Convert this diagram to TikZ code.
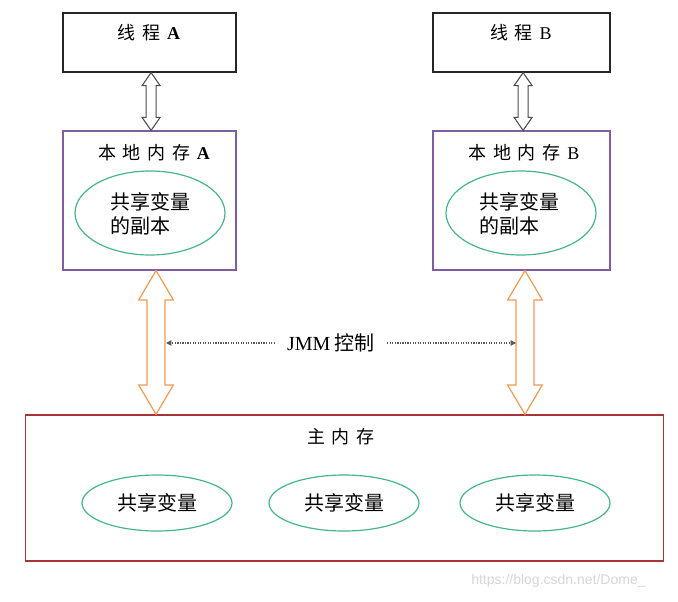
\documentclass[tikz,border=0pt]{standalone}
\usepackage{fontspec}
\setmainfont{Noto Sans CJK SC}
\newfontfamily\latf{Liberation Serif}
\newfontfamily\wmf{Liberation Sans}
\usetikzlibrary{calc,arrows.meta,shapes.geometric}
\definecolor{boxpurple}{HTML}{7E5E9E}
\definecolor{arrorange}{HTML}{F09A55}
\definecolor{ellgreen}{HTML}{45B58A}
\definecolor{mainred}{HTML}{A83535}
\definecolor{wmgray}{HTML}{D6D6D6}
\newcommand\dblarr[6]{%
  \draw[#1] let \p1=(#2), \p2=(#3) in
    (\x1,\y1) -- (\x1+#5,\y1-#6) -- (\x1+#4,\y1-#6) -- (\x1+#4,\y2+#6) --
    (\x1+#5,\y2+#6) -- (\x1,\y2) -- (\x1-#5,\y2+#6) -- (\x1-#4,\y2+#6) --
    (\x1-#4,\y1-#6) -- (\x1-#5,\y1-#6) -- cycle;}
\newcommand\chsp{\hspace{5pt}}
\begin{document}
\begin{tikzpicture}[x=0.75pt,y=-0.75pt,
  threadbox/.style={draw=black!85,line width=0.9pt,rectangle,inner sep=0pt,minimum height=44.25pt},
  localbox/.style={draw=boxpurple,line width=0.9pt,rectangle,inner sep=0pt,minimum height=104.25pt},
  mainbox/.style={draw=mainred,line width=1pt,rectangle,inner sep=0pt,minimum width=478.5pt,minimum height=109.5pt},
  title/.style={font=\fontsize{13.5}{16}\selectfont,inner sep=1pt},
  copyell/.style={draw=ellgreen,line width=0.9pt,ellipse,inner sep=0pt,minimum width=112.5pt,minimum height=63pt},
  varell/.style={draw=ellgreen,line width=0.9pt,ellipse,inner sep=0pt,minimum width=112.5pt,minimum height=42pt},
  elltext/.style={font=\fontsize{15}{18}\selectfont,align=left,inner sep=0pt},
  hollow/.style={draw=black!70,line width=0.8pt,fill=white},
  orangearr/.style={draw=arrorange,line width=0.9pt,fill=white},
  jmmline/.style={draw=black!65,densely dotted,line width=0.9pt,-{Triangle[length=4pt,width=4pt]}}
]
\useasboundingbox (0,0) rectangle (678,601);

% threads
\node[threadbox,minimum width=129.75pt] (ta) at (149.5,42.5) {};
\node[title] (tat) at (149,33) {线\chsp 程\chsp{\latf\bfseries A}};
\node[threadbox,minimum width=132.75pt] (tb) at (521.5,42.5) {};
\node[title] (tbt) at (521,33) {线\chsp 程\chsp{\latf B}};

% local memories
\node[localbox,minimum width=129.75pt] (la) at (149.5,200.5) {};
\node[title] (lat) at (154,153) {本\chsp 地\chsp 内\chsp 存\chsp{\latf\bfseries A}};
\node[copyell] (ca) at (150,213) {};
\node[elltext] (cat) at (150,214) {共享变量\\的副本};
\node[localbox,minimum width=132.75pt] (lb) at (521.5,200.5) {};
\node[title] (lbt) at (524,153) {本\chsp 地\chsp 内\chsp 存\chsp{\latf B}};
\node[copyell] (cb) at (521,213) {};
\node[elltext] (cbt) at (519,214) {共享变量\\的副本};

% main memory
\node[mainbox] (mm) at (344.5,488) {};
\node[title] (mmt) at (341,437) {主\chsp 内\chsp 存};
\node[varell] (v1) at (157,503) {};
\node[elltext] (v1t) at (157,503) {共享变量};
\node[varell] (v2) at (344,503) {};
\node[elltext] (v2t) at (344,503) {共享变量};
\node[varell] (v3) at (535,503) {};
\node[elltext] (v3t) at (535,503) {共享变量};

% thread <-> local arrows
\dblarr{hollow}{[xshift=1.2pt]ta.south}{la.north}{3.75pt}{6.75pt}{9.75pt}
\dblarr{hollow}{[xshift=1.2pt]tb.south}{lb.north}{3.75pt}{6.75pt}{9.75pt}

% local <-> main arrows
\dblarr{orangearr}{[xshift=4.9pt]la.south}{mm.north}{6.75pt}{13pt}{22pt}
\dblarr{orangearr}{[xshift=2.6pt]lb.south}{mm.north}{6.75pt}{13pt}{22pt}

% JMM control
\node[font=\fontsize{15}{18}\selectfont,inner xsep=9pt,inner ysep=2pt] (jmm) at (331,343) {{\latf JMM} 控制};
\coordinate (jl) at (166,343);
\coordinate (jr) at (516,343);
\draw[jmmline] (jmm.west) -- (jl);
\draw[jmmline] (jmm.east) -- (jr);

% watermark
\node[font=\wmf\fontsize{10.5}{12}\selectfont,text=wmgray,anchor=west,inner sep=0pt] (wm) at (471,581) {https://blog.csdn.net/Dome\_};
\end{tikzpicture}
\end{document}
